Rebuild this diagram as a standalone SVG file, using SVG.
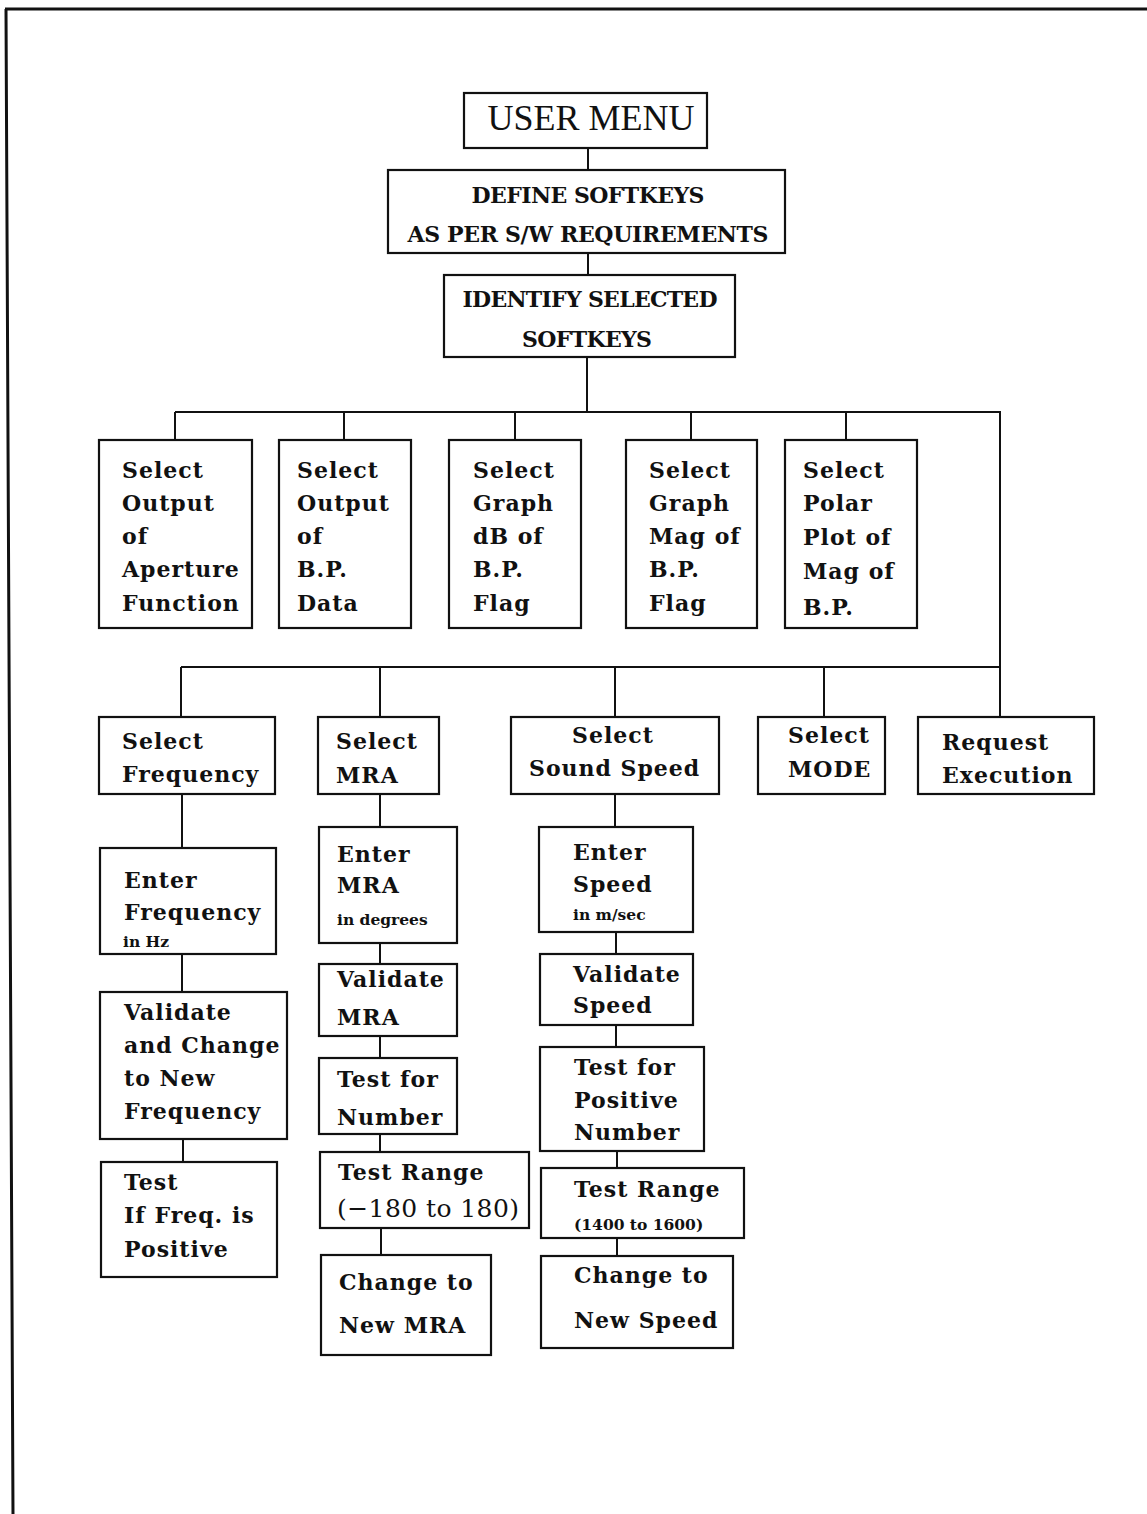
<svg xmlns="http://www.w3.org/2000/svg" width="1147" height="1514" viewBox="0 0 1147 1514">
  <style>
    .frame { fill: none; stroke: #111; stroke-width: 3; }
    .box { fill: #fff; stroke: #111; stroke-width: 2.2; }
    .wire { fill: none; stroke: #111; stroke-width: 2; }
    .t { font-family: "DejaVu Serif", serif; font-weight: bold; font-size: 22px; letter-spacing: 1px; fill: #111; }
    .cap { font-family: "DejaVu Serif", serif; font-weight: bold; font-size: 22px; fill: #111; text-anchor: middle; }
    .title { font-family: "Liberation Serif", "Times New Roman", serif; font-size: 36px; fill: #111; text-anchor: middle; }
    .small { font-family: "DejaVu Serif", serif; font-weight: bold; font-size: 15.5px; fill: #111; }
    .range { font-family: "DejaVu Serif", serif; font-size: 25px; fill: #111; }
  </style>

  <rect width="1147" height="1514" fill="#fff"/>

  <!-- page frame -->
  <path class="frame" d="M5 9 H1147 M6 9 L13 1514"/>

  <!-- connectors -->
  <g id="connectors" class="wire">
    <path d="M588 148 V170"/>
    <path d="M588 253 V275"/>
    <path d="M587 357 V412"/>
    <path d="M175 412 H1000 V717"/>
    <path d="M175 412 V440 M344 412 V440 M515 412 V440 M691 412 V440 M846 412 V440"/>
    <path d="M181 667 H1000"/>
    <path d="M181 667 V717 M380 667 V717 M615 667 V717 M824 667 V717"/>
    <path d="M182 794 V848 M182 954 V992 M183 1139 V1162"/>
    <path d="M380 794 V827 M380 943 V964 M380 1036 V1058 M380 1134 V1152 M381 1228 V1255"/>
    <path d="M615 794 V827 M616 932 V954 M616 1025 V1047 M617 1151 V1168 M617 1238 V1256"/>
  </g>

  <!-- top of the menu tree -->
  <g id="user-menu">
    <rect class="box" x="464" y="93" width="243" height="55"/>
    <text class="title" x="591" y="130">USER MENU</text>
  </g>
  <g id="define-softkeys">
    <rect class="box" x="388" y="170" width="397" height="83"/>
    <text class="cap" x="588" y="203" textLength="233" lengthAdjust="spacing">DEFINE SOFTKEYS</text>
    <text class="cap" x="588" y="242" textLength="361" lengthAdjust="spacing">AS PER S/W REQUIREMENTS</text>
  </g>
  <g id="identify-softkeys">
    <rect class="box" x="444" y="275" width="291" height="82"/>
    <text class="cap" x="590" y="307" textLength="255" lengthAdjust="spacing">IDENTIFY SELECTED</text>
    <text class="cap" x="587" y="347" textLength="130" lengthAdjust="spacing">SOFTKEYS</text>
  </g>

  <!-- output selections -->
  <g id="output-aperture">
    <rect class="box" x="99" y="440" width="153" height="188"/>
    <text class="t" x="122" y="478">Select</text>
    <text class="t" x="122" y="511">Output</text>
    <text class="t" x="122" y="544">of</text>
    <text class="t" x="122" y="577">Aperture</text>
    <text class="t" x="122" y="611">Function</text>
  </g>
  <g id="output-bp-data">
    <rect class="box" x="279" y="440" width="132" height="188"/>
    <text class="t" x="297" y="478">Select</text>
    <text class="t" x="297" y="511">Output</text>
    <text class="t" x="297" y="544">of</text>
    <text class="t" x="297" y="577">B.P.</text>
    <text class="t" x="297" y="611">Data</text>
  </g>
  <g id="graph-db">
    <rect class="box" x="449" y="440" width="132" height="188"/>
    <text class="t" x="473" y="478">Select</text>
    <text class="t" x="473" y="511">Graph</text>
    <text class="t" x="473" y="544">dB of</text>
    <text class="t" x="473" y="577">B.P.</text>
    <text class="t" x="473" y="611">Flag</text>
  </g>
  <g id="graph-mag">
    <rect class="box" x="626" y="440" width="131" height="188"/>
    <text class="t" x="649" y="478">Select</text>
    <text class="t" x="649" y="511">Graph</text>
    <text class="t" x="649" y="544">Mag of</text>
    <text class="t" x="649" y="577">B.P.</text>
    <text class="t" x="649" y="611">Flag</text>
  </g>
  <g id="polar-plot">
    <rect class="box" x="785" y="440" width="132" height="188"/>
    <text class="t" x="803" y="478">Select</text>
    <text class="t" x="803" y="511">Polar</text>
    <text class="t" x="803" y="545">Plot of</text>
    <text class="t" x="803" y="579">Mag of</text>
    <text class="t" x="803" y="615">B.P.</text>
  </g>

  <!-- parameter selections -->
  <g id="select-frequency">
    <rect class="box" x="99" y="717" width="176" height="77"/>
    <text class="t" x="122" y="749">Select</text>
    <text class="t" x="122" y="782">Frequency</text>
  </g>
  <g id="select-mra">
    <rect class="box" x="318" y="717" width="121" height="77"/>
    <text class="t" x="336" y="749">Select</text>
    <text class="t" x="336" y="783">MRA</text>
  </g>
  <g id="select-sound-speed">
    <rect class="box" x="511" y="717" width="208" height="77"/>
    <text class="t" x="572" y="743">Select</text>
    <text class="t" x="529" y="776">Sound Speed</text>
  </g>
  <g id="select-mode">
    <rect class="box" x="758" y="717" width="127" height="77"/>
    <text class="t" x="788" y="743">Select</text>
    <text class="t" x="788" y="777">MODE</text>
  </g>
  <g id="request-execution">
    <rect class="box" x="918" y="717" width="176" height="77"/>
    <text class="t" x="942" y="750">Request</text>
    <text class="t" x="942" y="783">Execution</text>
  </g>

  <!-- frequency branch -->
  <g id="enter-frequency">
    <rect class="box" x="100" y="848" width="176" height="106"/>
    <text class="t" x="124" y="888">Enter</text>
    <text class="t" x="124" y="920">Frequency</text>
    <text class="small" x="123" y="947">in Hz</text>
  </g>
  <g id="validate-frequency">
    <rect class="box" x="100" y="992" width="187" height="147"/>
    <text class="t" x="124" y="1020">Validate</text>
    <text class="t" x="124" y="1053">and Change</text>
    <text class="t" x="124" y="1086">to New</text>
    <text class="t" x="124" y="1119">Frequency</text>
  </g>
  <g id="test-frequency">
    <rect class="box" x="101" y="1162" width="176" height="115"/>
    <text class="t" x="124" y="1190">Test</text>
    <text class="t" x="124" y="1223">If Freq. is</text>
    <text class="t" x="124" y="1257">Positive</text>
  </g>

  <!-- MRA branch -->
  <g id="enter-mra">
    <rect class="box" x="319" y="827" width="138" height="116"/>
    <text class="t" x="337" y="862">Enter</text>
    <text class="t" x="337" y="893">MRA</text>
    <text class="small" x="337" y="925">in degrees</text>
  </g>
  <g id="validate-mra">
    <rect class="box" x="319" y="964" width="138" height="72"/>
    <text class="t" x="337" y="987">Validate</text>
    <text class="t" x="337" y="1025">MRA</text>
  </g>
  <g id="test-number">
    <rect class="box" x="319" y="1058" width="138" height="76"/>
    <text class="t" x="337" y="1087">Test for</text>
    <text class="t" x="337" y="1125">Number</text>
  </g>
  <g id="test-range-mra">
    <rect class="box" x="320" y="1152" width="209" height="76"/>
    <text class="t" x="338" y="1180">Test Range</text>
    <text class="range" x="337" y="1217" textLength="182" lengthAdjust="spacing">(−180 to 180)</text>
  </g>
  <g id="change-mra">
    <rect class="box" x="321" y="1255" width="170" height="100"/>
    <text class="t" x="339" y="1290">Change to</text>
    <text class="t" x="339" y="1333">New MRA</text>
  </g>

  <!-- sound speed branch -->
  <g id="enter-speed">
    <rect class="box" x="539" y="827" width="154" height="105"/>
    <text class="t" x="573" y="860">Enter</text>
    <text class="t" x="573" y="892">Speed</text>
    <text class="small" x="573" y="920">in m/sec</text>
  </g>
  <g id="validate-speed">
    <rect class="box" x="540" y="954" width="153" height="71"/>
    <text class="t" x="573" y="982">Validate</text>
    <text class="t" x="573" y="1013">Speed</text>
  </g>
  <g id="test-positive">
    <rect class="box" x="540" y="1047" width="164" height="104"/>
    <text class="t" x="574" y="1075">Test for</text>
    <text class="t" x="574" y="1108">Positive</text>
    <text class="t" x="574" y="1140">Number</text>
  </g>
  <g id="test-range-speed">
    <rect class="box" x="541" y="1168" width="203" height="70"/>
    <text class="t" x="574" y="1197">Test Range</text>
    <text class="small" x="574" y="1230">(1400 to 1600)</text>
  </g>
  <g id="change-speed">
    <rect class="box" x="541" y="1256" width="192" height="92"/>
    <text class="t" x="574" y="1283">Change to</text>
    <text class="t" x="574" y="1328">New Speed</text>
  </g>
</svg>
